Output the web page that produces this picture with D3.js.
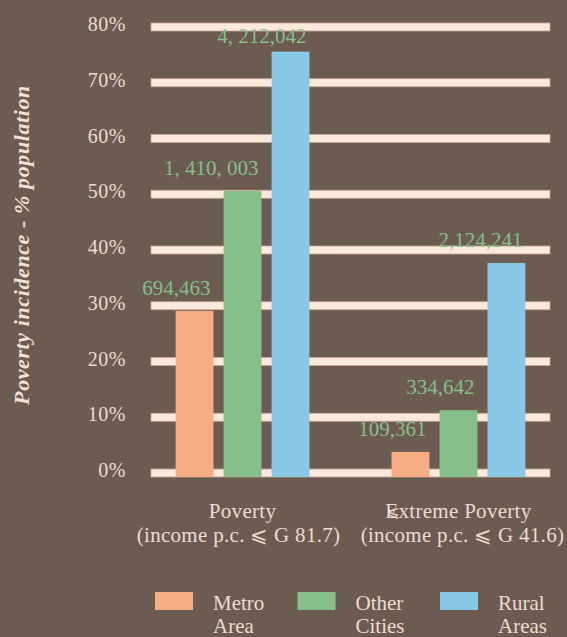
<!DOCTYPE html>
<html>
<head>
<meta charset="utf-8">
<script src="https://cdn.jsdelivr.net/npm/d3@7"></script>
<style>
  body { margin: 0; background: #6b5b51; }
  svg text { font-family: "Liberation Serif", "DejaVu Serif", serif; }
</style>
</head>
<body>
<div id="chart"></div>
<script>
// data
const groups = ["Poverty", "Extreme Poverty"];
const groupNotes = ["(income p.c. \u2A7D G 81.7)", "(income p.c. \u2A7D G 41.6)"];
const areas = ["Metro Area", "Other Cities", "Rural Areas"];
const incidence = [
    [29.8, 51.3, 76.3],   // Poverty
    [4.5, 12.0, 38.4]     // Extreme Poverty
];
const people = [
    ["694,463", "1, 410, 003", "4, 212,042"],
    ["109,361", "334,642", "2,124,241"]
];
const yTicks = [0, 10, 20, 30, 40, 50, 60, 70, 80];

const colors = ["#f7ad83", "#86bf8a", "#89c9e5"];
const W = 567, H = 637;
const margin = {top: 31, right: 17, bottom: 160, left: 151};

const svg = d3.select("#chart").append("svg")
    .attr("width", W)
    .attr("height", H);

svg.append("rect").attr("width", W).attr("height", H).attr("fill", "#6b5b51");

const x0 = d3.scaleBand()
    .domain(groups)
    .range([margin.left, W - margin.right])
    .paddingInner(0.3)
    .paddingOuter(0.074);

const x1 = d3.scaleBand()
    .domain(areas)
    .range([0, x0.bandwidth()])
    .paddingInner(0.21)
    .paddingOuter(0.18);

const y = d3.scaleLinear()
    .domain([0, 80])
    .range([H - margin.bottom, margin.top]);

// grid bands sit just above each tick value
svg.append("g").selectAll("rect")
    .data(yTicks)
    .join("rect")
    .attr("x", margin.left)
    .attr("y", d => y(d) - 8)
    .attr("width", W - margin.right - margin.left)
    .attr("height", 8)
    .attr("fill", "#fde8dc")
    .attr("stroke", "#c7a796")
    .attr("stroke-width", 0.8);

svg.append("g").selectAll("text")
    .data(yTicks)
    .join("text")
    .attr("x", 126)
    .attr("y", d => y(d))
    .attr("text-anchor", "end")
    .attr("font-size", 20)
    .attr("letter-spacing", 0.5)
    .attr("fill", "#eddcd1")
    .text(d => d + "%");

svg.append("text")
    .attr("transform", `translate(29,${(y(0) + y(80)) / 2 - 9}) rotate(-90)`)
    .attr("text-anchor", "middle")
    .attr("font-size", 22)
    .attr("letter-spacing", 0.6)
    .attr("font-style", "italic")
    .attr("font-weight", "bold")
    .attr("fill", "#f3e1d6")
    .text("Poverty incidence - % population");

const groupG = svg.append("g").selectAll("g")
    .data(groups)
    .join("g")
    .attr("transform", d => `translate(${x0(d)},0)`);

groupG.selectAll("rect")
    .data((g, gi) => areas.map((a, i) => ({area: a, value: incidence[gi][i], i})))
    .join("rect")
    .attr("x", d => x1(d.area))
    .attr("y", d => y(d.value))
    .attr("width", x1.bandwidth())
    .attr("height", d => y(0) - y(d.value))
    .attr("fill", d => colors[d.i]);

groupG.selectAll("text.value")
    .data((g, gi) => areas.map((a, i) => ({area: a, value: incidence[gi][i], label: people[gi][i]})))
    .join("text")
    .attr("class", "value")
    .attr("x", d => x1(d.area) + x1.bandwidth() - 3)
    .attr("y", d => Math.max(y(d.value) - 16, y(80) + 12))
    .attr("text-anchor", "end")
    .attr("font-size", 21)
    .attr("fill", "#86bf8a")
    .text(d => d.label);

// category labels
const catG = svg.append("g").selectAll("text")
    .data(groups)
    .join("text")
    .attr("x", d => x0(d) + x0.bandwidth() / 2)
    .attr("y", 518)
    .attr("text-anchor", "middle")
    .attr("font-size", 21)
    .attr("letter-spacing", 0.3)
    .attr("fill", "#eddcd1");
catG.append("tspan").text(d => d);
catG.append("tspan")
    .attr("x", (d, i) => x0(d) + x0.bandwidth() / 2 + (i ? 4 : -4))
    .attr("dy", 24)
    .text((d, i) => groupNotes[i]);

// stray glyph drawn over the E of "Extreme", as in the original
const extremeBox = catG.filter((d, i) => i === 1).select("tspan").node().getBBox();
svg.append("text")
    .attr("x", extremeBox.x + 1)
    .attr("y", 517)
    .attr("font-size", 16)
    .attr("fill", "#eddcd1")
    .text("\u2A7D");

// legend
const legend = svg.append("g").selectAll("g")
    .data(areas)
    .join("g")
    .attr("transform", (d, i) => `translate(${155 + i * 142.5},592)`);

legend.append("rect")
    .attr("width", 38)
    .attr("height", 18)
    .attr("fill", (d, i) => colors[i]);

const lt = legend.append("text")
    .attr("x", 58)
    .attr("y", 18)
    .attr("font-size", 21)
    .attr("fill", "#eddcd1");
lt.append("tspan").text(d => d.split(" ")[0]);
lt.append("tspan").attr("x", 58).attr("dy", 23).text(d => d.split(" ")[1]);
</script>
</body>
</html>
